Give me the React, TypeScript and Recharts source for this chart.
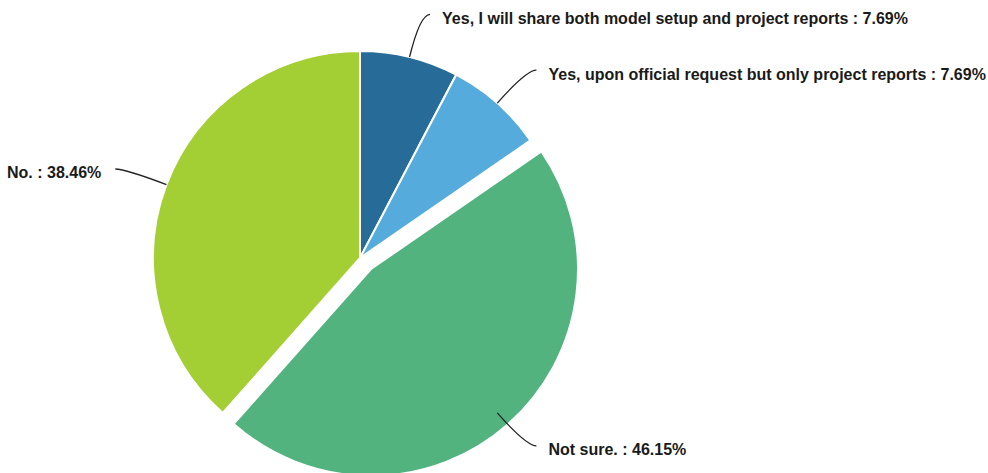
import { PieChart, Pie, Cell } from 'recharts';

const categories = [
  'Yes, I will share both model setup and project reports',
  'Yes, upon official request but only project reports',
  'Not sure.',
  'No.',
];
const responses = [1, 1, 6, 5];
const colors = ['#276c99', '#55abdb', '#53b37f', '#a3cf35'];
const explodedIndex = 2;

const data = categories.map((name, i) => ({ name, value: responses[i] }));

const RAD = Math.PI / 180;

function renderLabel(props: any) {
  const { cx, cy, midAngle, outerRadius, percent, name } = props;
  const cos = Math.cos(-midAngle * RAD);
  const sin = Math.sin(-midAngle * RAD);
  const sx = cx + outerRadius * cos;
  const sy = cy + outerRadius * sin;
  const mx = cx + (outerRadius + 44) * cos;
  const my = cy + (outerRadius + 44) * sin;
  const right = cos >= 0;
  const ex = mx + (right ? 10 : -10);
  const ey = my;
  const tx = ex + (right ? 12 : -14);
  return (
    <g>
      <path d={`M${sx},${sy}Q${mx},${my} ${ex},${ey}`} stroke="#222" strokeWidth={1.3} fill="none" />
      <text
        x={tx}
        y={ey + 4}
        textAnchor={right ? 'start' : 'end'}
        dominantBaseline="central"
        fill="#1a1a1a"
        fontSize={16}
        fontWeight="bold"
        fontFamily="'Liberation Sans', Arial, sans-serif"
      >
        {`${name} : ${(percent * 100).toFixed(2)}%`}
      </text>
    </g>
  );
}

export default function App() {
  return (
    <div style={{ position: 'absolute', left: 0, top: 0, width: 988, height: 473, background: '#fff' }}>
      <PieChart width={988} height={473}>
        <Pie
          data={data}
          dataKey="value"
          nameKey="name"
          cx={355}
          cy={253}
          outerRadius={207}
          startAngle={90}
          endAngle={-270}
          stroke="#fff"
          strokeWidth={2}
          label={renderLabel}
          labelLine={false}
          isAnimationActive={false}
        >
          {data.map((_, i) => (
            <Cell key={i} fill={i === explodedIndex ? 'none' : colors[i]} stroke={i === explodedIndex ? 'none' : '#fff'} />
          ))}
        </Pie>
        <Pie
          data={data}
          dataKey="value"
          nameKey="name"
          cx={366}
          cy={264}
          outerRadius={207}
          startAngle={90}
          endAngle={-270}
          strokeWidth={2}
          isAnimationActive={false}
        >
          {data.map((_, i) => (
            <Cell key={i} fill={i === explodedIndex ? colors[i] : 'none'} stroke={i === explodedIndex ? '#fff' : 'none'} />
          ))}
        </Pie>
      </PieChart>
    </div>
  );
}
